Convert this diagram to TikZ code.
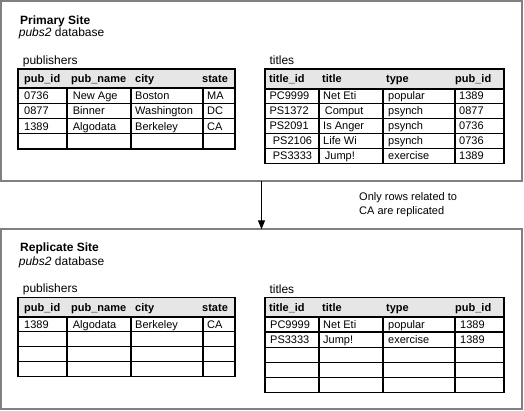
\documentclass[tikz,border=0pt]{standalone}
\usepackage{fontspec}
\setmainfont{Liberation Sans}
\usetikzlibrary{arrows.meta}
\definecolor{sitegray}{RGB}{128,128,128}
\definecolor{headgray}{RGB}{230,230,230}
\tikzset{
  sitebox/.style={draw=sitegray, line width=2pt, rectangle, inner sep=0pt, outer sep=0pt,
    anchor=north west, minimum width=521pt, minimum height=179.5pt},
  cell/.style={anchor=base west, inner sep=0pt, font=\fontsize{11}{13}\selectfont},
  hcell/.style={anchor=base west, inner sep=0pt, font=\fontsize{11}{13}\selectfont\bfseries},
  title/.style={anchor=base west, inner sep=0pt, font=\fontsize{12}{14}\selectfont\bfseries},
  lbl/.style={anchor=base west, inner sep=0pt, font=\fontsize{12}{14}\selectfont},
  note/.style={anchor=north west, inner sep=0pt, align=left, font=\fontsize{11}{13.3}\selectfont},
  tabline/.style={draw=black, line width=1.2pt},
  headline/.style={draw=black, line width=2pt},
  flow/.style={draw=black, line width=1.3pt, -{Triangle[width=7pt,length=9pt]}},
}
% #1 xl, #2 xr, #3 column dividers, #4 header top, #5 header bottom, #6 rows, #7 row height
\newcommand\mydbtable[7]{%
  \fill[headgray] (#1,#4) rectangle (#2,#5);
  \foreach \i in {1,...,#6} \draw[tabline] (#1,{#5+\i*#7}) -- (#2,{#5+\i*#7});
  \foreach \xx in {#3} \draw[tabline] (\xx,#5) -- (\xx,{#5+#6*#7});
  \draw[tabline] (#1,#4) rectangle (#2,{#5+#6*#7});
  \draw[headline] (#1,#5) -- (#2,#5);
}
\begin{document}
\begin{tikzpicture}[x=1pt,y=-1pt]
\useasboundingbox (0,0) rectangle (524,410);
\fill[white] (0,0) rectangle (524,410);

% site boxes
\node[sitebox] (primary) at (1,1) {};
\node[sitebox] (replicate) at (1,229.3) {};
\draw[flow] (primary.south) -- (replicate.north);
\node[note] (cond) at (359,192.7) {Only rows related to\\CA are replicated};

% ---------- Primary site ----------
\node[title] (ptitle) at (20,24) {Primary Site};
\node[lbl] (pdb) at (18.7,36.7) {\itshape pubs2\upshape{} database};
\node[lbl] (ppubl) at (22.7,64.3) {publishers};
\node[lbl] (ptitl) at (269.3,64.8) {titles};

\mydbtable{18}{235}{67,131,203}{69}{88}{4}{15.25}
\mydbtable{265}{504}{319,383,455}{69}{88.5}{5}{15}

% primary publishers
\node[hcell] (pp-h1) at (24,82.4) {pub\_id};
\node[hcell] (pp-h2) at (71,82.4) {pub\_name};
\node[hcell] (pp-h3) at (135,82.4) {city};
\node[hcell] (pp-h4) at (202,82.4) {state};
\node[cell] (pp-11) at (24,99.5) {0736};
\node[cell] (pp-12) at (72.7,99.5) {New Age};
\node[cell] (pp-13) at (135,99.5) {Boston};
\node[cell] (pp-14) at (207,99.5) {MA};
\node[cell] (pp-21) at (24,114.8) {0877};
\node[cell] (pp-22) at (72.7,114.8) {Binner};
\node[cell] (pp-23) at (135,114.8) {Washington};
\node[cell] (pp-24) at (207,114.8) {DC};
\node[cell] (pp-31) at (24,130) {1389};
\node[cell] (pp-32) at (72.7,130) {Algodata};
\node[cell] (pp-33) at (135,130) {Berkeley};
\node[cell] (pp-34) at (207,130) {CA};

% primary titles
\node[hcell] (pt-h1) at (269,82.6) {title\_id};
\node[hcell] (pt-h2) at (322,82.6) {title};
\node[hcell] (pt-h3) at (386,82.6) {type};
\node[hcell] (pt-h4) at (455,82.6) {pub\_id};
\node[cell] (pt-11) at (269.3,99.9) {PC9999};
\node[cell] (pt-12) at (323,99.9) {Net Eti};
\node[cell] (pt-13) at (388,99.9) {popular};
\node[cell] (pt-14) at (459,99.9) {1389};
\node[cell] (pt-21) at (269.3,114.9) {PS1372};
\node[cell] (pt-22) at (324.7,114.9) {Comput};
\node[cell] (pt-23) at (388,114.9) {psynch};
\node[cell] (pt-24) at (459,114.9) {0877};
\node[cell] (pt-31) at (269.3,129.9) {PS2091};
\node[cell] (pt-32) at (323,129.9) {Is Anger};
\node[cell] (pt-33) at (388,129.9) {psynch};
\node[cell] (pt-34) at (459,129.9) {0736};
\node[cell] (pt-41) at (272.7,144.9) {PS2106};
\node[cell] (pt-42) at (323,144.9) {Life Wi};
\node[cell] (pt-43) at (388,144.9) {psynch};
\node[cell] (pt-44) at (459,144.9) {0736};
\node[cell] (pt-51) at (272.7,159.9) {PS3333};
\node[cell] (pt-52) at (324.7,159.9) {Jump!};
\node[cell] (pt-53) at (388,159.9) {exercise};
\node[cell] (pt-54) at (459,159.9) {1389};

% ---------- Replicate site ----------
\node[title] (rtitle) at (20,251.7) {Replicate Site};
\node[lbl] (rdb) at (18.7,265) {\itshape pubs2\upshape{} database};
\node[lbl] (rpubl) at (22.7,292.7) {publishers};
\node[lbl] (rtitl) at (269.3,293) {titles};

\mydbtable{18}{235}{67,131,203}{297.7}{316.7}{4}{15}
\mydbtable{265}{504}{319,383,455}{297.7}{316.7}{5}{15.2}

% replicate publishers
\node[hcell] (rp-h1) at (24,311.1) {pub\_id};
\node[hcell] (rp-h2) at (71,311.1) {pub\_name};
\node[hcell] (rp-h3) at (135,311.1) {city};
\node[hcell] (rp-h4) at (202,311.1) {state};
\node[cell] (rp-11) at (24,328.1) {1389};
\node[cell] (rp-12) at (72.7,328.1) {Algodata};
\node[cell] (rp-13) at (135,328.1) {Berkeley};
\node[cell] (rp-14) at (207,328.1) {CA};

% replicate titles
\node[hcell] (rt-h1) at (269,311.1) {title\_id};
\node[hcell] (rt-h2) at (322,311.1) {title};
\node[hcell] (rt-h3) at (386,311.1) {type};
\node[hcell] (rt-h4) at (455,311.1) {pub\_id};
\node[cell] (rt-11) at (270,328.2) {PC9999};
\node[cell] (rt-12) at (323,328.2) {Net Eti};
\node[cell] (rt-13) at (388,328.2) {popular};
\node[cell] (rt-14) at (460,328.2) {1389};
\node[cell] (rt-21) at (270,343.4) {PS3333};
\node[cell] (rt-22) at (323,343.4) {Jump!};
\node[cell] (rt-23) at (388,343.4) {exercise};
\node[cell] (rt-24) at (460,343.4) {1389};
\end{tikzpicture}
\end{document}
